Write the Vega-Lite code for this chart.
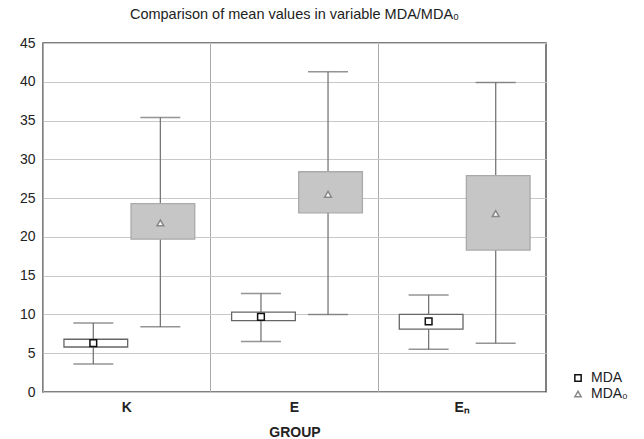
{
  "$schema": "https://vega.github.io/schema/vega-lite/v6.json",
  "autosize": {"type": "none"},
  "padding": {"left": 43, "top": 43, "right": 98, "bottom": 47},
  "width": 503,
  "height": 349,
  "background": "white",
  "title": {"text": "Comparison of mean values in variable MDA/MDA₀", "font": "Liberation Sans", "fontSize": 14.5, "fontWeight": "normal", "color": "#222", "offset": 14, "anchor": "middle"},
  "data": {"values": [
    {"group": "K", "series": "MDA", "mean": 6.3, "boxLo": 5.8, "boxHi": 6.8, "wLo": 3.6, "wHi": 8.9},
    {"group": "K", "series": "MDA₀", "mean": 21.8, "boxLo": 19.7, "boxHi": 24.3, "wLo": 8.4, "wHi": 35.4},
    {"group": "E", "series": "MDA", "mean": 9.7, "boxLo": 9.2, "boxHi": 10.3, "wLo": 6.5, "wHi": 12.7},
    {"group": "E", "series": "MDA₀", "mean": 25.5, "boxLo": 23.1, "boxHi": 28.4, "wLo": 10.0, "wHi": 41.3},
    {"group": "Eₙ", "series": "MDA", "mean": 9.1, "boxLo": 8.1, "boxHi": 10.0, "wLo": 5.5, "wHi": 12.5},
    {"group": "Eₙ", "series": "MDA₀", "mean": 23.0, "boxLo": 18.3, "boxHi": 27.9, "wLo": 6.3, "wHi": 39.9}
  ]},
  "encoding": {
    "x": {"field": "group", "type": "nominal", "sort": ["K", "E", "Eₙ"], "title": "GROUP",
      "scale": {"paddingInner": 0, "paddingOuter": 0},
      "axis": {"labelAngle": 0, "labelFont": "Liberation Sans", "labelFontSize": 14, "labelFontWeight": "bold", "labelColor": "#222", "labelPadding": 8,
        "titleFont": "Liberation Sans", "titleFontSize": 14, "titleFontWeight": "bold", "titleColor": "#222", "titlePadding": 11,
        "ticks": false, "domain": false, "grid": true, "bandPosition": 0, "gridColor": "#aaa", "gridWidth": 1}},
    "xOffset": {"field": "series", "type": "nominal", "sort": ["MDA", "MDA₀"], "scale": {"paddingInner": 0, "paddingOuter": 0.25}}
  },
  "layer": [
    {
      "mark": {"type": "rule", "color": "#777", "strokeWidth": 1.3},
      "encoding": {
        "y": {"field": "wLo", "type": "quantitative", "scale": {"domain": [0, 45], "nice": false}, "title": null,
          "axis": {"values": [0, 5, 10, 15, 20, 25, 30, 35, 40, 45]}},
        "y2": {"field": "wHi"}
      }
    },
    {
      "mark": {"type": "tick", "color": "#666", "size": 40, "thickness": 1.5},
      "encoding": {"y": {"field": "wLo", "type": "quantitative", "title": null, "axis": {"values": [0, 5, 10, 15, 20, 25, 30, 35, 40, 45]}}}
    },
    {
      "mark": {"type": "tick", "color": "#666", "size": 40, "thickness": 1.5},
      "encoding": {"y": {"field": "wHi", "type": "quantitative", "title": null, "axis": {"values": [0, 5, 10, 15, 20, 25, 30, 35, 40, 45]}}}
    },
    {
      "mark": {"type": "bar", "width": {"band": 0.95}, "strokeWidth": 1.3},
      "encoding": {
        "y": {"field": "boxLo", "type": "quantitative", "title": null, "axis": {"values": [0, 5, 10, 15, 20, 25, 30, 35, 40, 45]}},
        "y2": {"field": "boxHi"},
        "fill": {"field": "series", "type": "nominal", "scale": {"domain": ["MDA", "MDA₀"], "range": ["#ffffff", "#c6c6c6"]}, "legend": null},
        "stroke": {"field": "series", "type": "nominal", "scale": {"domain": ["MDA", "MDA₀"], "range": ["#666666", "#aaaaaa"]}, "legend": null}
      }
    },
    {
      "mark": {"type": "point", "filled": false, "opacity": 1, "strokeWidth": 1.5, "fill": "white"},
      "encoding": {
        "y": {"field": "mean", "type": "quantitative", "title": null, "axis": {"values": [0, 5, 10, 15, 20, 25, 30, 35, 40, 45]}},
        "shape": {"field": "series", "type": "nominal", "scale": {"domain": ["MDA", "MDA₀"], "range": ["square", "triangle-up"]},
          "legend": {"title": null, "orient": "none", "legendX": 528, "legendY": 328}},
        "color": {"field": "series", "type": "nominal", "scale": {"domain": ["MDA", "MDA₀"], "range": ["#111111", "#888888"]},
          "legend": {"title": null, "orient": "none", "legendX": 528, "legendY": 328}},
        "size": {"value": 45}
      }
    }
  ],
  "resolve": {"scale": {"fill": "independent", "stroke": "independent"}},
  "config": {
    "view": {"stroke": "#555", "strokeWidth": 1.5},
    "axisY": {"labelFont": "Liberation Sans", "labelFontSize": 14, "labelColor": "#222", "labelPadding": 8, "ticks": false, "domain": false, "grid": true, "gridColor": "#c8c8c8", "gridWidth": 1},
    "legend": {"labelFont": "Liberation Sans", "labelFontSize": 14, "labelColor": "#222", "symbolSize": 40, "symbolFillColor": "white", "symbolStrokeWidth": 1.5, "rowPadding": 2, "labelOffset": 6}
  }
}
